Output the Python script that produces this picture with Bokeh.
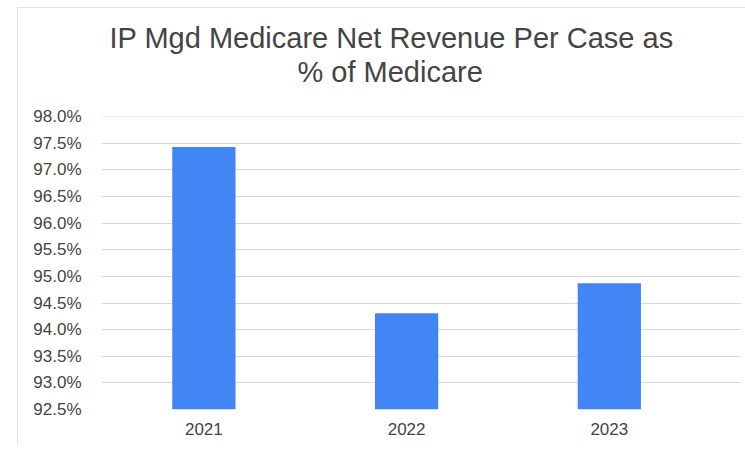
from bokeh.plotting import figure
from bokeh.models import Range1d, FixedTicker, PrintfTickFormatter, Title
from bokeh.embed import file_html
from bokeh.resources import INLINE

years = ["2021", "2022", "2023"]
values = [97.43, 94.31, 94.87]
y_ticks = [92.5, 93.0, 93.5, 94.0, 94.5, 95.0, 95.5, 96.0, 96.5, 97.0, 97.5, 98.0]
title_lines = ["IP Mgd Medicare Net Revenue Per Case as", "% of Medicare"]

idx = list(range(len(years)))

FONT = "Liberation Sans"
TXT = "#444444"

p = figure(width=728, height=438, output_backend="svg", toolbar_location=None,
           x_range=Range1d(-0.505, 2.652), y_range=Range1d(92.5, 98.005),
           min_border_left=83, min_border_right=5, min_border_bottom=37, min_border_top=108,
           margin=(7, 0, 0, 17),
           styles={"border-left": "1px solid #dce3ee", "border-top": "1px solid #dce3ee"})

def style_title(t, offset, standoff, size="29px"):
    t.align = "left"
    t.offset = offset
    t.standoff = standoff
    t.text_font = FONT
    t.text_font_size = size
    t.text_font_style = "normal"
    t.text_color = TXT

# items in p.above stack outward from the frame; p.title sits outermost
p.title.text = title_lines[0]
style_title(p.title, 8, 4)
spacer = Title(text=" ")
style_title(spacer, 0, 28, size="1px")
p.add_layout(spacer, "above")
t2 = Title(text=title_lines[1])
style_title(t2, 196, -4)
p.add_layout(t2, "above")

p.vbar(x=idx, top=values, bottom=y_ticks[0], width=0.312, color="#4285f4", line_color=None)

p.xaxis.ticker = FixedTicker(ticks=idx)
p.xaxis.major_label_overrides = {i: y for i, y in zip(idx, years)}
p.yaxis.ticker = FixedTicker(ticks=y_ticks)
p.yaxis.formatter = PrintfTickFormatter(format="%.1f%%")

for ax in (p.xaxis, p.yaxis):
    ax.axis_line_color = None
    ax.major_tick_line_color = None
    ax.minor_tick_line_color = None
    ax.major_tick_out = 0
    ax.major_tick_in = 0
    ax.minor_tick_out = 0
    ax.major_label_text_font = FONT
    ax.major_label_text_font_size = "17px"
    ax.major_label_text_color = TXT
p.yaxis.major_label_standoff = 20
p.xaxis.major_label_standoff = 13

p.xgrid.grid_line_color = None
p.ygrid.grid_line_color = "#d9d9d9"
p.ygrid.grid_line_width = 1
p.outline_line_color = None

open("out.html", "w").write(file_html(p, INLINE))
